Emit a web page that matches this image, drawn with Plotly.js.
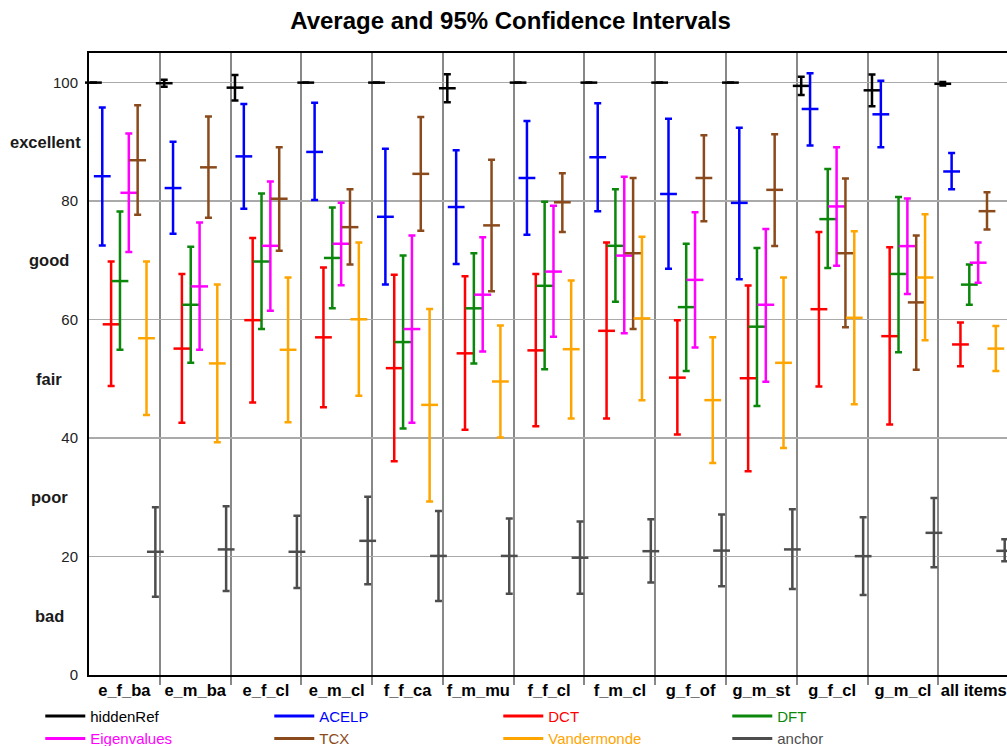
<!DOCTYPE html>
<html>
<head>
<meta charset="utf-8">
<script src="https://cdn.plot.ly/plotly-3.0.1.min.js"></script>
<style>
  html, body { margin: 0; padding: 0; background: #fff; overflow: hidden; }
  #chart { width: 1007px; height: 746px; }
</style>
</head>
<body>
<div id="chart"></div>
<script>
// Listening-test items (one group of bars per item)
const categories = ['e_f_ba', 'e_m_ba', 'e_f_cl', 'e_m_cl', 'f_f_ca', 'f_m_mu', 'f_f_cl',
                    'f_m_cl', 'g_f_of', 'g_m_st', 'g_f_cl', 'g_m_cl', 'all items'];

// Quality scale
const scoreTicks = [0, 20, 40, 60, 80, 100];
const qualityLevels = [10, 30, 50, 70, 90];
const qualityLabels = ['bad', 'poor', 'fair', 'good', 'excellent'];

// Mean score and 95% confidence bounds per condition
const hiddenRefMean = [100, 99.9, 99.15, 100, 100, 99.05, 100, 100, 100, 100, 99.45, 98.7, 99.8];
const hiddenRefLow  = [100, 99.3, 97.0, 100, 100, 96.7, 100, 100, 100, 100, 97.9, 96.0, 99.5];
const hiddenRefHigh = [100, 100.5, 101.3, 100, 100, 101.4, 100, 100, 100, 100, 101.0, 101.35, 100.1];

const acelpMean = [84.2, 82.2, 87.55, 88.3, 77.35, 79.0, 83.9, 87.4, 81.2, 79.7, 95.55, 94.65, 85.0];
const acelpLow  = [72.5, 74.5, 78.7, 80.2, 65.9, 69.4, 74.3, 78.3, 68.6, 66.8, 89.4, 89.1, 82.0];
const acelpHigh = [95.8, 90.0, 96.4, 96.6, 88.85, 88.6, 93.5, 96.5, 93.9, 92.4, 101.6, 100.3, 88.1];

const dctMean = [59.2, 55.1, 59.9, 57.0, 51.8, 54.3, 54.8, 58.1, 50.2, 50.1, 61.75, 57.2, 55.8];
const dctLow  = [48.8, 42.6, 46.0, 45.2, 36.1, 41.4, 42.0, 43.3, 40.6, 34.4, 48.7, 42.3, 52.1];
const dctHigh = [69.8, 67.7, 73.75, 68.8, 67.55, 67.3, 67.7, 73.0, 59.9, 65.75, 74.8, 72.2, 59.5];

const dftMean = [66.5, 62.5, 69.8, 70.4, 56.2, 61.9, 65.7, 72.45, 62.1, 58.8, 76.96, 67.7, 65.9];
const dftLow  = [54.9, 52.7, 58.4, 61.9, 41.6, 52.6, 51.6, 63.0, 51.3, 45.4, 68.7, 54.5, 62.5];
const dftHigh = [78.25, 72.3, 81.3, 78.9, 70.8, 71.2, 79.9, 82.0, 72.8, 72.1, 85.4, 80.7, 69.3];

const eigenMean = [81.4, 65.6, 72.45, 72.8, 58.4, 64.2, 68.1, 70.8, 66.7, 62.5, 79.1, 72.4, 69.6];
const eigenLow  = [71.4, 54.9, 61.5, 65.8, 42.6, 54.6, 57.1, 57.7, 55.3, 49.5, 69.1, 64.3, 66.2];
const eigenHigh = [91.4, 76.4, 83.3, 79.7, 74.2, 73.9, 79.2, 84.1, 78.1, 75.3, 89.1, 80.45, 73.0];

const tcxMean = [86.9, 85.7, 80.4, 75.6, 84.6, 75.9, 79.8, 71.2, 83.9, 81.9, 71.2, 62.9, 78.3];
const tcxLow  = [77.7, 77.2, 71.6, 69.3, 75.0, 64.8, 74.8, 58.4, 76.6, 72.4, 58.7, 51.55, 75.2];
const tcxHigh = [96.2, 94.3, 89.1, 82.0, 94.2, 87.0, 84.7, 83.9, 91.1, 91.3, 83.8, 74.2, 81.5];

const vanderMean = [56.85, 52.6, 54.9, 60.05, 45.6, 49.55, 55.0, 60.2, 46.4, 52.7, 60.3, 67.1, 55.1];
const vanderLow  = [43.9, 39.3, 42.65, 47.15, 29.3, 40.1, 43.3, 46.4, 35.8, 38.3, 45.7, 56.5, 51.3];
const vanderHigh = [69.8, 65.9, 67.1, 73.0, 61.8, 59.0, 66.6, 74.0, 57.0, 67.1, 74.9, 77.8, 58.9];

const anchorMean = [20.8, 21.2, 20.8, 22.65, 20.1, 20.1, 19.8, 20.9, 21.0, 21.2, 20.06, 24.0, 20.96];
const anchorLow  = [13.2, 14.2, 14.7, 15.3, 12.5, 13.7, 13.7, 15.6, 15.0, 14.5, 13.5, 18.2, 19.2];
const anchorHigh = [28.3, 28.5, 26.9, 30.1, 27.7, 26.4, 25.9, 26.3, 27.1, 28.0, 26.65, 29.9, 22.9];

const conditions = [
  { name: 'hiddenRef',   color: '#000000', mean: hiddenRefMean, low: hiddenRefLow, high: hiddenRefHigh },
  { name: 'ACELP',       color: '#0000ff', mean: acelpMean,     low: acelpLow,     high: acelpHigh },
  { name: 'DCT',         color: '#ff0000', mean: dctMean,       low: dctLow,       high: dctHigh },
  { name: 'DFT',         color: '#0b870b', mean: dftMean,       low: dftLow,       high: dftHigh },
  { name: 'Eigenvalues', color: '#ff00ff', mean: eigenMean,     low: eigenLow,     high: eigenHigh },
  { name: 'TCX',         color: '#8b4a1c', mean: tcxMean,       low: tcxLow,       high: tcxHigh },
  { name: 'Vandermonde', color: '#ffa500', mean: vanderMean,    low: vanderLow,    high: vanderHigh },
  { name: 'anchor',      color: '#4d4d4d', mean: anchorMean,    low: anchorLow,    high: anchorHigh }
];

const FONT = 'Liberation Sans, Arial, Helvetica, sans-serif';
const nCond = conditions.length;
const traces = [];

conditions.forEach((c, k) => {
  // each condition sits in its own slot inside an item's unit-wide group
  const xs = categories.map((_, i) => i + (k + 0.5) / nCond);
  traces.push({
    type: 'scatter',
    mode: 'markers',
    x: xs,
    y: c.mean,
    name: c.name,
    showlegend: false,
    legendgroup: c.name,
    cliponaxis: false,
    marker: { symbol: 'line-ew', size: 12, color: c.color, line: { color: c.color, width: 2.5 } },
    error_y: {
      type: 'data',
      symmetric: false,
      array: c.high.map((h, i) => h - c.mean[i]),
      arrayminus: c.low.map((l, i) => c.mean[i] - l),
      color: c.color,
      thickness: 2.5,
      width: 3.5
    },
    hoverinfo: 'skip'
  });
});

// legend entries
conditions.forEach(c => {
  traces.push({
    type: 'scatter',
    mode: 'lines',
    x: [null],
    y: [null],
    xaxis: 'x2',
    name: '<span style="color:' + c.color + '">' + c.name + '</span>',
    legendgroup: c.name,
    line: { color: c.color, width: 3 },
    showlegend: true
  });
});

const annotations = qualityLabels.map((t, i) => ({
  xref: 'paper', yref: 'y',
  x: 0, y: qualityLevels[i],
  xanchor: 'center', yanchor: 'middle',
  xshift: t === 'excellent' ? -44 : -40,
  text: '<b>' + t + '</b>',
  showarrow: false,
  font: { family: FONT, size: 16.5, color: '#1a1a1a' }
}));

const layout = {
  width: 1007,
  height: 746,
  margin: { l: 89, r: 0, t: 53, b: 71 },
  paper_bgcolor: '#ffffff',
  plot_bgcolor: '#ffffff',
  font: { family: FONT, color: '#1a1a1a' },
  title: {
    text: '<b>Average and 95% Confidence Intervals</b>',
    font: { family: FONT, size: 24, color: '#000000' },
    xref: 'container', x: 0.507, xanchor: 'center',
    yref: 'container', y: 0.972, yanchor: 'middle'
  },
  xaxis: {
    range: [0, 12.97],
    tickvals: categories.slice(1).map((_, i) => i + 1),
    showticklabels: false,
    ticks: 'outside', ticklen: 8, tickwidth: 2, tickcolor: '#888888',
    showgrid: true, gridcolor: '#888888', gridwidth: 2,
    zeroline: false,
    showline: true, linecolor: '#000000', linewidth: 2, mirror: true,
    fixedrange: true
  },
  xaxis2: {
    overlaying: 'x',
    anchor: 'y',
    side: 'bottom',
    range: [0, 12.97],
    tickvals: categories.map((_, i) => i + 0.5),
    ticktext: categories.map(c => '<b>' + c + '</b>'),
    tickfont: { family: FONT, size: 16.5, color: '#000000' },
    ticks: '',
    ticklabelstandoff: 3,
    showgrid: false, zeroline: false, showline: false,
    fixedrange: true
  },
  yaxis: {
    range: [0, 105],
    tickvals: scoreTicks,
    ticktext: scoreTicks.map(String),
    tickfont: { family: FONT, size: 15, color: '#222222' },
    ticks: 'outside', ticklen: 6, tickcolor: 'rgba(0,0,0,0)',
    showgrid: true, gridcolor: '#aaaaaa', gridwidth: 1.5,
    zeroline: false,
    showline: true, linecolor: '#000000', linewidth: 2,
    fixedrange: true
  },
  legend: {
    orientation: 'h',
    xref: 'container', yref: 'container',
    x: 0.040, xanchor: 'left',
    y: 0.062, yanchor: 'top',
    entrywidth: 174, entrywidthmode: 'pixels',
    itemwidth: 40,
    font: { family: FONT, size: 15 },
    bgcolor: 'rgba(0,0,0,0)',
    traceorder: 'normal'
  },
  annotations: annotations,
  showlegend: true
};

Plotly.newPlot('chart', traces, layout, { displayModeBar: false, staticPlot: true });
</script>
</body>
</html>
